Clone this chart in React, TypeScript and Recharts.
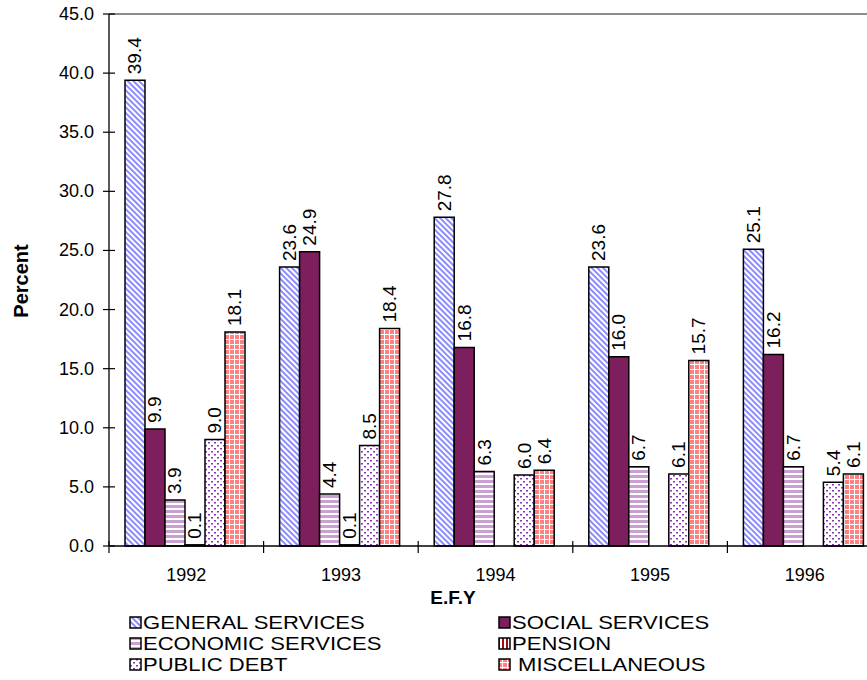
import React from "react";
import { BarChart, Bar, XAxis, YAxis, LabelList, ReferenceLine, Label } from "recharts";

const years = ["1992", "1993", "1994", "1995", "1996"];
const generalServices = [39.4, 23.6, 27.8, 23.6, 25.1];
const socialServices = [9.9, 24.9, 16.8, 16.0, 16.2];
const economicServices = [3.9, 4.4, 6.3, 6.7, 6.7];
const pension = [0.1, 0.1, 0.0, 0.0, 0.0];
const publicDebt = [9.0, 8.5, 6.0, 6.1, 5.4];
const miscellaneous = [18.1, 18.4, 6.4, 15.7, 6.1];
const yTicks = [0, 5, 10, 15, 20, 25, 30, 35, 40, 45];

const series = [
  { key: "general", name: "GENERAL SERVICES", fill: "url(#patGeneral)" },
  { key: "social", name: "SOCIAL SERVICES", fill: "#7d1f5c" },
  { key: "economic", name: "ECONOMIC SERVICES", fill: "url(#patEconomic)" },
  { key: "pension", name: "PENSION", fill: "url(#patPension)" },
  { key: "debt", name: "PUBLIC DEBT", fill: "url(#patDebt)" },
  { key: "misc", name: " MISCELLANEOUS", fill: "url(#patMisc)" },
];

const data = years.map((y, i) => ({
  year: y,
  general: generalServices[i],
  social: socialServices[i],
  economic: economicServices[i],
  pension: pension[i],
  debt: publicDebt[i],
  misc: miscellaneous[i],
}));

const FONT = "'Liberation Sans', Arial, sans-serif";
const CHART_W = 900;
const CHART_H = 680;
const MARGIN = { top: 14, right: 18, left: 0, bottom: 0 };
const Y_AXIS_W = 109;
const X_AXIS_H = 134;
const BAND = (CHART_W - MARGIN.right - Y_AXIS_W) / years.length;

const YTick = (props: any) => {
  const { x, y, payload } = props;
  return (
    <g>
      <line x1={x - 6} x2={x + 6} y1={y} y2={y} stroke="#000" strokeWidth={1.2} />
      <text x={x - 15} y={y} textAnchor="end" dominantBaseline="central" fontSize={18} fontFamily={FONT} fill="#000">
        {Number(payload.value).toFixed(1)}
      </text>
    </g>
  );
};

const XTick = (props: any) => {
  const { x, y, payload } = props;
  const bx = x - BAND / 2;
  return (
    <g>
      <line x1={bx} x2={bx} y1={y - 5} y2={y + 7} stroke="#000" strokeWidth={1.2} />
      <text x={x} y={y + 29} textAnchor="middle" dominantBaseline="central" fontSize={18} fontFamily={FONT} fill="#000">
        {payload.value}
      </text>
    </g>
  );
};

const BarLabel = (props: any) => {
  const { x, y, width, value } = props;
  const cx = x + width / 2;
  const ty = y - 6;
  return (
    <text
      x={cx}
      y={ty}
      transform={`rotate(-90 ${cx} ${ty})`}
      textAnchor="start"
      dominantBaseline="central"
      fontSize={19}
      fontFamily={FONT}
      fill="#000"
    >
      {Number(value).toFixed(1)}
    </text>
  );
};

const Patterns = () => (
  <defs>
    <pattern id="patGeneral" patternUnits="userSpaceOnUse" width={4} height={4} patternTransform="rotate(-45)">
      <rect width={4} height={4} fill="#ffffff" />
      <rect width={2} height={4} fill="#8c8cff" />
    </pattern>
    <pattern id="patEconomic" patternUnits="userSpaceOnUse" width={5} height={5}>
      <rect width={5} height={5} fill="#ffffff" />
      <rect width={5} height={3} fill="#cc9fd4" />
    </pattern>
    <pattern id="patPension" patternUnits="userSpaceOnUse" width={4} height={4}>
      <rect width={4} height={4} fill="#ffffff" />
      <rect width={2} height={4} fill="#9b1010" />
    </pattern>
    <pattern id="patDebt" patternUnits="userSpaceOnUse" width={6} height={6}>
      <rect width={6} height={6} fill="#ffffff" />
      <rect x={1} y={1} width={2} height={1.5} fill="#8a35b5" />
      <rect x={4} y={4} width={2} height={1.5} fill="#8a35b5" />
    </pattern>
    <pattern id="patMisc" patternUnits="userSpaceOnUse" width={5} height={5}>
      <rect width={5} height={5} fill="#ffffff" />
      <rect width={4} height={4} fill="#ff8080" />
    </pattern>
  </defs>
);

const LegendItem = ({ s }: { s: (typeof series)[number] }) => (
  <div style={{ display: "flex", alignItems: "center", height: 21.2, whiteSpace: "pre" }}>
    <svg width={13} height={13} style={{ marginRight: 1, flex: "none" }}>
      <rect x={1} y={1} width={11} height={11} fill={s.fill} stroke="#000" strokeWidth={1.5} />
    </svg>
    <span
      style={{
        display: "inline-block",
        fontSize: 19,
        lineHeight: "21.2px",
        transform: "scaleX(1.16)",
        transformOrigin: "left center",
      }}
    >
      {s.name}
    </span>
  </div>
);

export default function App() {
  return (
    <div
      style={{
        position: "fixed",
        left: 0,
        top: 0,
        width: 867,
        height: 680,
        overflow: "hidden",
        background: "#fff",
        fontFamily: FONT,
      }}
    >
      <BarChart
        width={CHART_W}
        height={CHART_H}
        data={data}
        margin={MARGIN}
        barCategoryGap={16}
        barGap={0}
      >
        <Patterns />
        <ReferenceLine y={45} stroke="#8c8c8c" strokeWidth={2} ifOverflow="visible" />
        <YAxis
          width={Y_AXIS_W}
          domain={[0, 45]}
          ticks={yTicks}
          interval={0}
          tickSize={0}
          tickMargin={0}
          tickLine={false}
          axisLine={{ stroke: "#000", strokeWidth: 1.3 }}
          tick={<YTick />}
        >
          <Label
            content={() => (
              <text
                x={21}
                y={281}
                transform="rotate(-90 21 281)"
                textAnchor="middle"
                dominantBaseline="central"
                fontSize={20}
                fontWeight="bold"
                fontFamily={FONT}
                fill="#000"
              >
                Percent
              </text>
            )}
          />
        </YAxis>
        <XAxis
          dataKey="year"
          height={X_AXIS_H}
          tickSize={0}
          tickMargin={0}
          tickLine={false}
          interval={0}
          axisLine={{ stroke: "#000", strokeWidth: 1.3 }}
          tick={<XTick />}
        >
          <Label
            content={() => (
              <text
                x={453}
                y={597}
                textAnchor="middle"
                dominantBaseline="central"
                fontSize={19}
                fontWeight="bold"
                fontFamily={FONT}
                fill="#000"
              >
                E.F.Y
              </text>
            )}
          />
        </XAxis>
        {series.map((s) => (
          <Bar
            key={s.key}
            dataKey={s.key}
            name={s.name}
            fill={s.fill}
            stroke="#000"
            strokeWidth={1.5}
            isAnimationActive={false}
          >
            <LabelList dataKey={s.key} content={<BarLabel />} />
          </Bar>
        ))}
      </BarChart>
      <div
        style={{
          position: "absolute",
          left: 129,
          top: 612,
          display: "grid",
          gridTemplateColumns: "369px 330px",
          color: "#000",
        }}
      >
        {series.map((s) => (
          <LegendItem key={s.key} s={s} />
        ))}
      </div>
    </div>
  );
}
